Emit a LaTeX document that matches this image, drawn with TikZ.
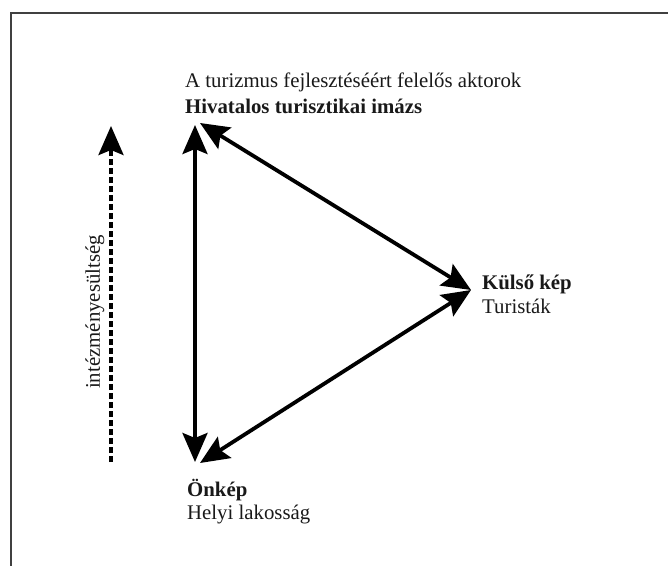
\documentclass[tikz,border=0pt]{standalone}
\usepackage{fontspec}
\setmainfont{Liberation Serif}
\usetikzlibrary{arrows.meta}
\begin{document}
\begin{tikzpicture}[x=1pt,y=-1pt,
  lbl/.style={inner sep=0pt, anchor=west, font=\fontsize{20.8}{24}\selectfont, text=black!90},
  blbl/.style={lbl, font=\fontsize{20.8}{24}\selectfont\bfseries},
  conn/.style={line width=3.8pt, {Stealth[length=29pt,width=25pt,inset=5pt]}-{Stealth[length=29pt,width=25pt,inset=5pt]}},
  frame/.style={draw=black!75, line width=1.5pt}]
\useasboundingbox (0,0) rectangle (668,565);
\fill[white] (0,0) rectangle (668,565);
\draw[frame] (11,566) -- (11,13) -- (669,13);
% vertices
\coordinate (T) at (195,125);
\coordinate (B) at (195,462);
\coordinate (R) at (471,290);
\coordinate (Ta) at (200,123);
\coordinate (Ba) at (200,463);
% connectors
\draw[conn] (T) -- (B);
\draw[conn] (Ta) -- (R);
\draw[conn] (Ba) -- (R);
% dashed axis
\coordinate (D1) at (111,462);
\coordinate (D2) at (111,126);
\draw[line width=3.8pt, dash pattern=on 6pt off 3pt, -{Stealth[length=29pt,width=25pt,inset=5pt]}] (D1) -- (D2);
\node[lbl, rotate=90, anchor=center] (axis) at (95,312) {intézményesültség};
% labels
\node[lbl] (t1) at (185,82) {A turizmus fejlesztéséért felelős aktorok};
\node[blbl] (t2) at (185,106) {Hivatalos turisztikai imázs};
\node[blbl] (r1) at (482,284) {Külső kép};
\node[lbl] (r2) at (482,306) {Turisták};
\node[blbl] (b1) at (187,490) {Önkép};
\node[lbl] (b2) at (187,515) {Helyi lakosság};
\end{tikzpicture}
\end{document}
